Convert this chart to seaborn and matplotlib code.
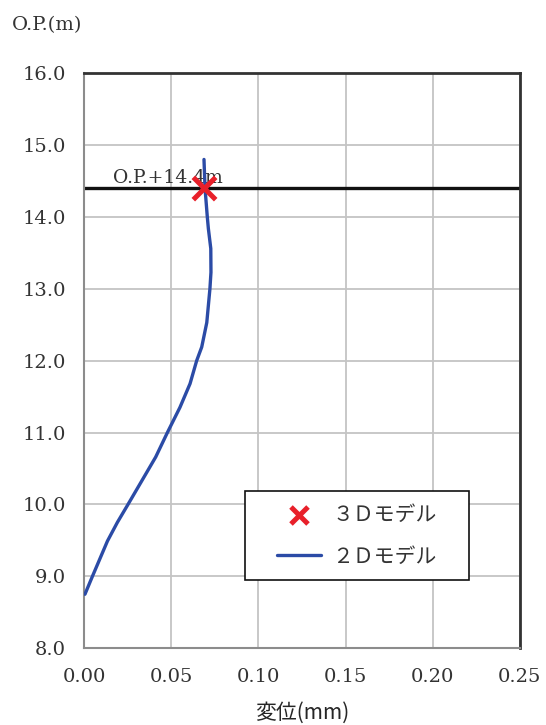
import pandas as pd
import matplotlib
matplotlib.use('Agg')
import matplotlib.pyplot as plt
import matplotlib.patches as mpatches
import matplotlib.ticker as mticker
import seaborn as sns

# ─── DATA ─────────────────────────────────────────────────────────────────────
disp_2d = [0.0005, 0.0048, 0.0134, 0.0191, 0.0252, 0.0334, 0.0411, 0.0478,
           0.0550, 0.0608, 0.0646, 0.0675, 0.0704, 0.0722, 0.0728, 0.0727,
           0.0713, 0.0707, 0.0694, 0.0688]
elev_2d = [8.75, 9.00, 9.49, 9.75, 10.00, 10.34, 10.66, 11.00,
           11.35, 11.68, 12.00, 12.19, 12.53, 13.00, 13.23, 13.56,
           13.84, 14.00, 14.40, 14.80]
disp_3d = [0.069]
elev_3d = [14.4]
ref_level = 14.4
ref_label = 'O.P.+14.4m'
label_3d = '３Ｄモデル'
label_2d = '２Ｄモデル'

# ─── STYLE ────────────────────────────────────────────────────────────────────
BLUE = '#2B4BA6'
RED = '#E8202A'
GRID = '#C4C4C4'
AXIS = '#8C8C8C'
TEXT = '#333333'

sns.set_theme(style='white')
plt.rcParams['font.family'] = ['DejaVu Serif', 'Noto Sans CJK JP']
plt.rcParams['text.color'] = TEXT

df2 = pd.DataFrame({'disp': disp_2d, 'elev': elev_2d})
df3 = pd.DataFrame({'disp': disp_3d, 'elev': elev_3d})

fig = plt.figure(figsize=(5.46, 7.25), dpi=100)
ax = fig.add_axes([0.154, 0.106, 0.798, 0.793])

ax.set_xlim(0, 0.25)
ax.set_ylim(8, 16)
ax.set_xticks([0.0, 0.05, 0.10, 0.15, 0.20, 0.25])
ax.set_yticks([8, 9, 10, 11, 12, 13, 14, 15, 16])
ax.xaxis.set_major_formatter(mticker.FormatStrFormatter('%.2f'))
ax.yaxis.set_major_formatter(mticker.FormatStrFormatter('%.1f'))
ax.grid(True, color=GRID, linewidth=1.3, zorder=0)

ax.axhline(ref_level, color='#111111', linewidth=2.4, zorder=2)
ax.text(0.0166, 14.54, ref_label, fontsize=13.5, color=TEXT,
        va='center', ha='left', zorder=3)

sns.lineplot(data=df2, x='disp', y='elev', sort=False, estimator=None,
             color=BLUE, linewidth=2.4, ax=ax, label=label_2d, zorder=4)
sns.scatterplot(data=df3, x='disp', y='elev', marker='x', s=260,
                color=RED, linewidth=3.6, ax=ax, label=label_3d, zorder=5)

for side in ['left', 'bottom']:
    ax.spines[side].set_color(AXIS)
    ax.spines[side].set_linewidth(1.5)
for side in ['top', 'right']:
    ax.spines[side].set_color(TEXT)
    ax.spines[side].set_linewidth(2)

ax.tick_params(axis='both', which='major', direction='out', length=5,
               width=1.3, color=AXIS, labelsize=14, labelcolor=TEXT)
ax.tick_params(axis='y', pad=8)
ax.tick_params(axis='x', pad=9)

ax.set_xlabel('変位(mm)', fontsize=15, labelpad=12,
              family=['Noto Sans CJK JP'])
ax.set_ylabel('')
fig.text(0.022, 0.965, 'O.P.(m)', fontsize=14, ha='left', va='center')

# legend box drawn as its own patch, entries centred inside it
box_x0, box_y0, box_w, box_h = 0.369, 0.118, 0.514, 0.155
ax.add_patch(mpatches.Rectangle((box_x0, box_y0), box_w, box_h,
                                transform=ax.transAxes, facecolor='white',
                                edgecolor='#111111', linewidth=1.2, zorder=6))

handles, labels = ax.get_legend_handles_labels()
order = [labels.index(label_3d), labels.index(label_2d)]
leg = ax.legend([handles[i] for i in order], [labels[i] for i in order],
                loc='center', bbox_to_anchor=(box_x0 + box_w / 2, box_y0 + box_h / 2),
                prop={'family': 'Noto Sans CJK JP', 'size': 15},
                frameon=False, labelspacing=0.95, handlelength=2.1,
                handletextpad=0.55, borderpad=0, borderaxespad=0)
leg.set_zorder(7)
leg.legend_handles[0].set_sizes([150])

fig.savefig('out.png', dpi=100)
